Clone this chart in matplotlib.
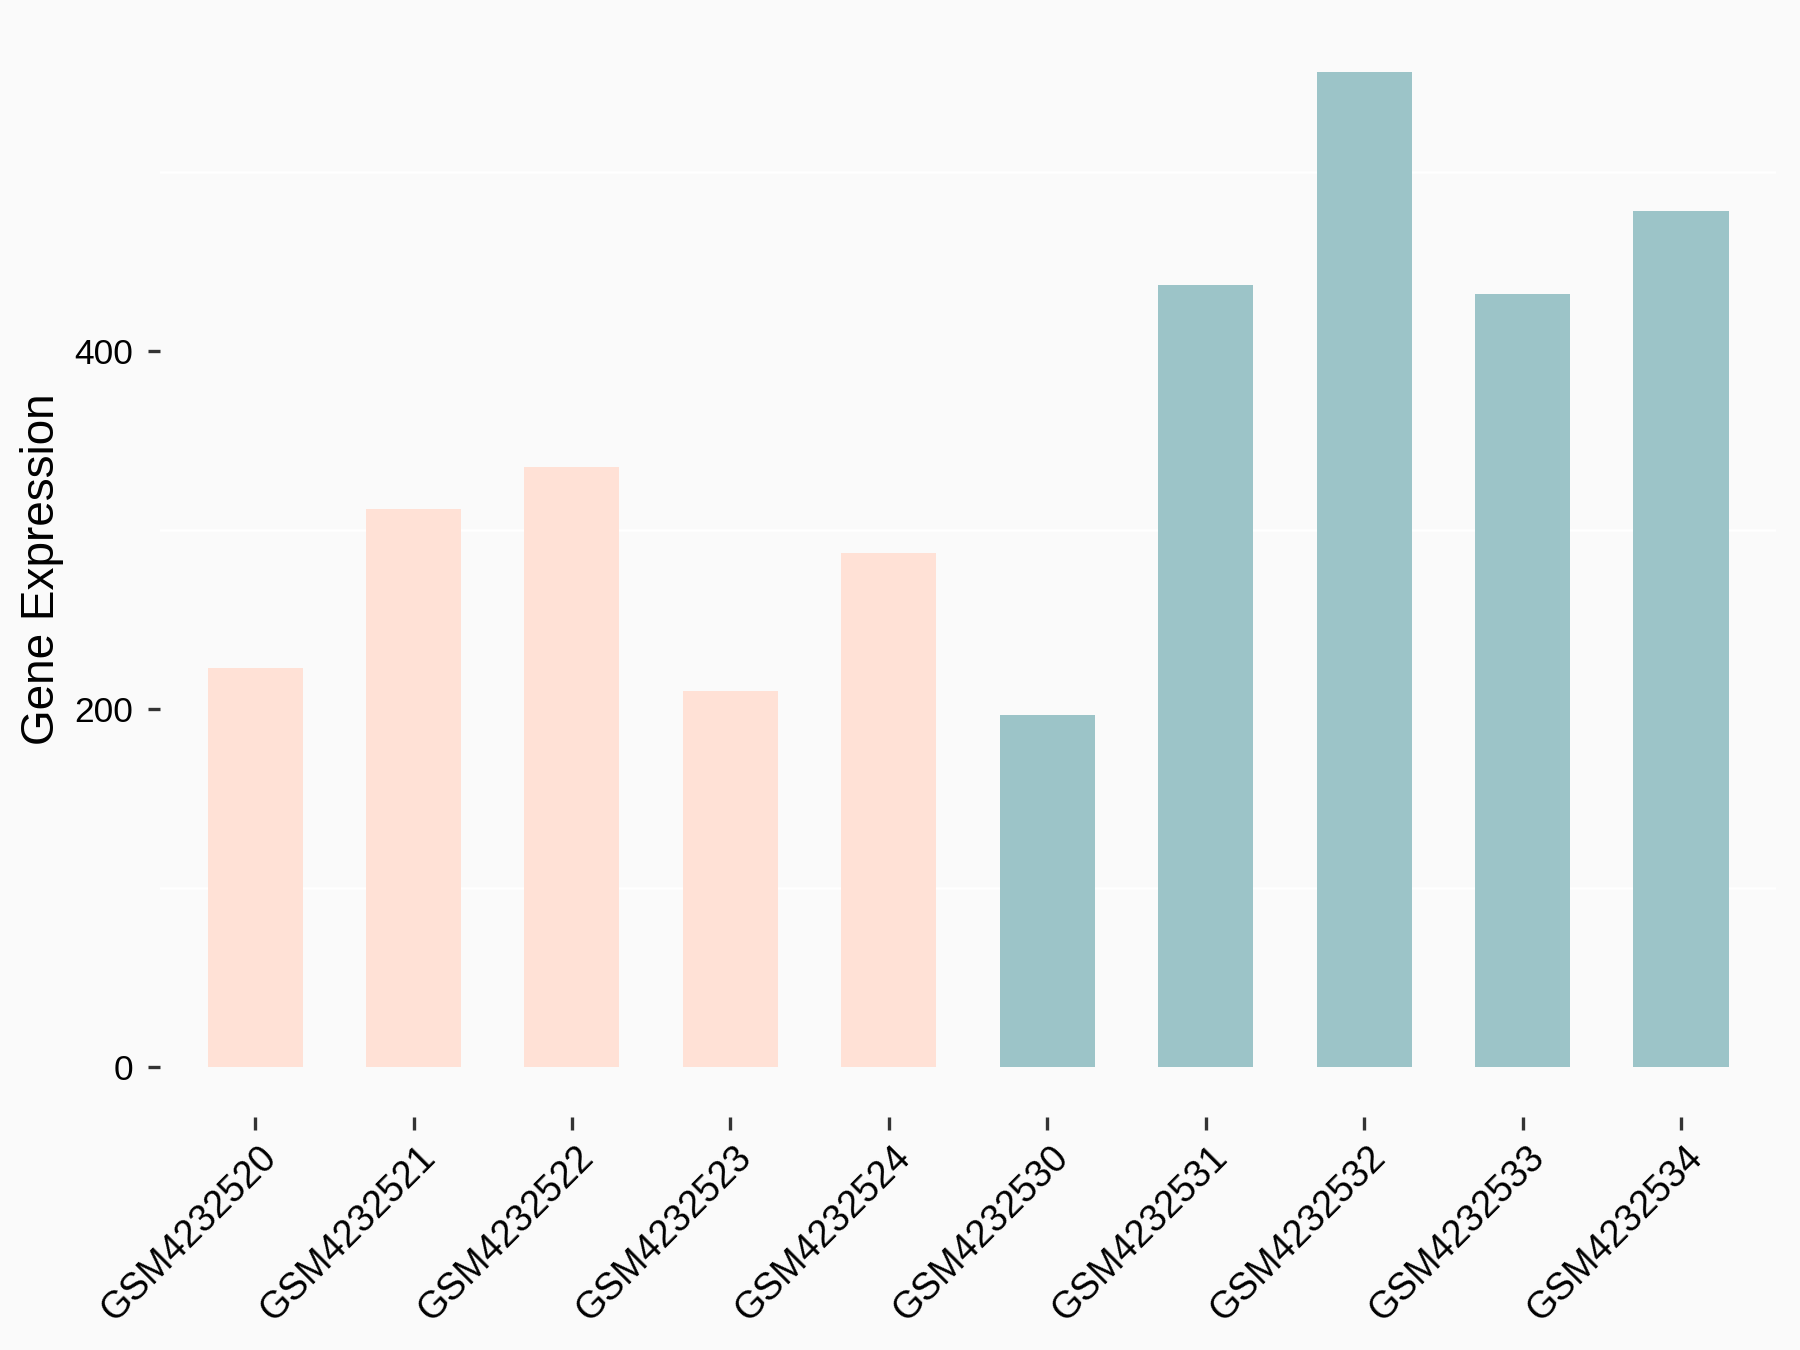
import matplotlib
matplotlib.use("Agg")
import matplotlib.pyplot as plt
from matplotlib.transforms import ScaledTranslation
import numpy as np

# -- data --
samples = [
    "GSM4232520", "GSM4232521", "GSM4232522", "GSM4232523", "GSM4232524",
    "GSM4232530", "GSM4232531", "GSM4232532", "GSM4232533", "GSM4232534",
]
expression = [223, 312, 335, 210, 287, 197, 437, 556, 432, 478]
groups = ["A", "A", "A", "A", "A", "B", "B", "B", "B", "B"]
group_colors = {"A": "#FFE1D6", "B": "#9CC4C8"}

plt.rcParams["font.family"] = ["Liberation Sans", "DejaVu Sans"]

fig = plt.figure(figsize=(12, 9), dpi=150, facecolor="#FAFAFA")
ax = fig.add_axes([0.0889, 0.1726, 0.8978, 0.8111])
ax.set_facecolor("#FAFAFA")

x = np.arange(len(samples))
ax.bar(x, expression, width=0.6, color=[group_colors[g] for g in groups],
       zorder=2)

ymax = max(expression)
ax.set_ylim(-0.05 * ymax, 1.05 * ymax)
ax.set_xlim(-0.6, len(samples) - 0.4)

# white minor grid only (ggplot-like look)
ax.set_yticks([0, 200, 400])
ax.set_yticks([100, 300, 500], minor=True)
ax.yaxis.grid(True, which="minor", color="white", linewidth=1.2, zorder=0)
ax.tick_params(axis="y", which="minor", length=0)

for s in ax.spines.values():
    s.set_visible(False)

ax.tick_params(axis="y", which="major", labelsize=17, length=6, width=1.6,
               color="#333333", pad=7, labelcolor="black")
ax.tick_params(axis="x", labelsize=18, length=6, width=1.6,
               color="#333333", pad=5, labelcolor="black")

ax.set_xticks(x)
ax.set_xticklabels(samples, rotation=45, ha="right", va="top",
                   rotation_mode="anchor")
offset = ScaledTranslation(1.5 / 72, 0, fig.dpi_scale_trans)
for lab in ax.get_xticklabels():
    lab.set_transform(lab.get_transform() + offset)

ax.set_ylabel("Gene Expression", fontsize=22, va="center")
ax.yaxis.set_label_coords(-0.073, 0.5)

fig.savefig("out.png", dpi=150, facecolor=fig.get_facecolor())
